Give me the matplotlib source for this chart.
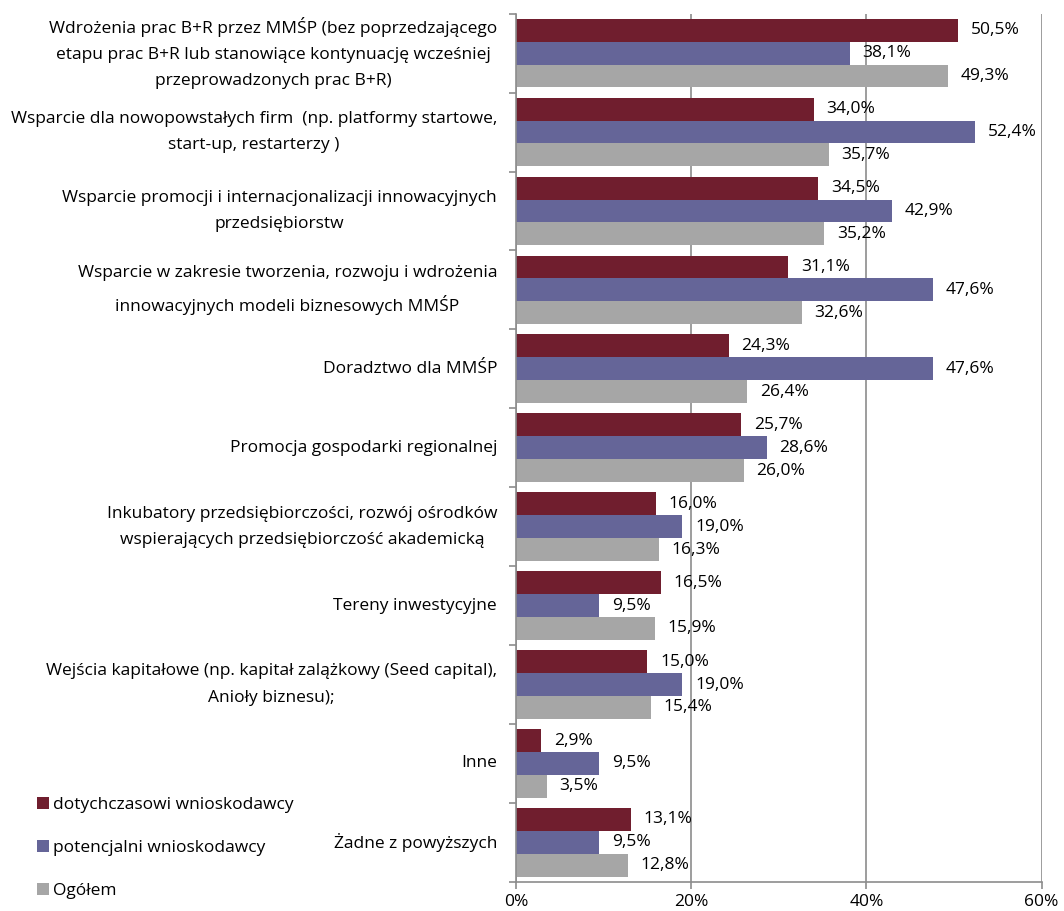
import numpy as np
import matplotlib
matplotlib.use("Agg")
from matplotlib import pyplot as plt
from matplotlib.ticker import FixedLocator
from matplotlib.transforms import blended_transform_factory

# Data (top to bottom)
categories = [
    "Wdrożenia prac B+R przez MMŚP (bez poprzedzającego\netapu prac B+R lub stanowiące kontynuację wcześniej\nprzeprowadzonych prac B+R)",
    "Wsparcie dla nowopowstałych firm  (np. platformy startowe,\nstart-up, restarterzy )",
    "Wsparcie promocji i internacjonalizacji innowacyjnych\nprzedsiębiorstw",
    "Wsparcie w zakresie tworzenia, rozwoju i wdrożenia\ninnowacyjnych modeli biznesowych MMŚP",
    "Doradztwo dla MMŚP",
    "Promocja gospodarki regionalnej",
    "Inkubatory przedsiębiorczości, rozwój ośrodków\nwspierających przedsiębiorczość akademicką",
    "Tereny inwestycyjne",
    "Wejścia kapitałowe (np. kapitał zalążkowy (Seed capital),\nAnioły biznesu);",
    "Inne",
    "Żadne z powyższych",
]
dotychczasowi = [50.5, 34.0, 34.5, 31.1, 24.3, 25.7, 16.0, 16.5, 15.0, 2.9, 13.1]
potencjalni = [38.1, 52.4, 42.9, 47.6, 47.6, 28.6, 19.0, 9.5, 19.0, 9.5, 9.5]
ogolem = [49.3, 35.7, 35.2, 32.6, 26.4, 26.0, 16.3, 15.9, 15.4, 3.5, 12.8]
series_names = ["dotychczasowi wnioskodawcy", "potencjalni wnioskodawcy", "Ogółem"]
colors = ["#701E2E", "#656598", "#A6A6A6"]
x_ticks = [0, 20, 40, 60]

plt.rcParams['font.family'] = ['Open Sans', 'DejaVu Sans']
FS = 12.5

fig = plt.figure(figsize=(10.64, 9.11), dpi=100)
ax = fig.add_axes([0.485, 0.032, 0.494, 0.953])

n = len(categories)
y = np.arange(n)
h = 0.29
series = [dotychczasowi, potencjalni, ogolem]
for i, (vals, name, col) in enumerate(zip(series, series_names, colors)):
    pos = y + (i - 1) * h
    bars = ax.barh(pos, vals, height=h, color=col, label=name, zorder=2)
    ax.bar_label(bars, labels=[f"{v:.1f}%".replace(".", ",") for v in vals],
                 padding=9, fontsize=FS, color="black")

ax.set_ylim(n - 0.5, -0.5)
ax.set_xlim(0, 60)
ax.set_xticks(x_ticks)
ax.set_xticklabels([f"{t}%" for t in x_ticks], fontsize=FS)

# category labels drawn as text so the line spacing can be controlled
ax.set_yticks(y)
ax.set_yticklabels([])
trans = blended_transform_factory(ax.transAxes, ax.transData)
for yi, cat in zip(y, categories):
    ax.text(-0.036, yi, cat, transform=trans, ha="right", va="center",
            multialignment="center", linespacing=1.85, fontsize=FS)

ax.yaxis.set_minor_locator(FixedLocator(np.arange(-0.5, n, 1.0)))
ax.tick_params(axis="y", which="major", length=0)
ax.tick_params(axis="y", which="minor", length=5, color="#8C8C8C", width=1.2)
ax.tick_params(axis="x", length=5, color="#8C8C8C", width=1.2, pad=4)

ax.grid(axis="x", color="#8C8C8C", linewidth=1.2, zorder=0)
for side in ["top", "right"]:
    ax.spines[side].set_visible(False)
for side in ["left", "bottom"]:
    ax.spines[side].set_color("#8C8C8C")
    ax.spines[side].set_linewidth(1.2)

fig.legend(loc="lower left", bbox_to_anchor=(0.02, -0.004), frameon=False,
           fontsize=FS, handlelength=0.7, handleheight=0.7,
           handletextpad=0.2, labelspacing=1.55)

fig.savefig("out.png", dpi=100)
